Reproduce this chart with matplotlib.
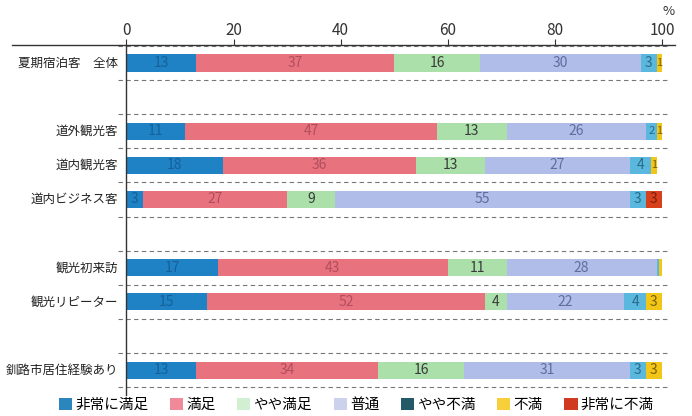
#!/usr/bin/env python3
"""
Stacked horizontal bar chart of visitor satisfaction (percent).
"""

import matplotlib
matplotlib.use("Agg")
import matplotlib.pyplot as plt
from matplotlib.patches import Patch

plt.rcParams['font.family'] = ['Noto Sans CJK JP', 'DejaVu Sans']

categories = ["夏期宿泊客　全体", "道外観光客", "道内観光客", "道内ビジネス客",
              "観光初来訪", "観光リピーター", "釧路市居住経験あり"]
positions = [0, 2, 3, 4, 6, 7, 9]

levels = ["非常に満足", "満足", "やや満足", "普通", "やや不満", "不満", "非常に不満"]
very_satisfied = [13, 11, 18, 3, 17, 15, 13]
satisfied = [37, 47, 36, 27, 43, 52, 34]
somewhat_satisfied = [16, 13, 13, 9, 11, 4, 16]
neutral = [30, 26, 27, 55, 28, 22, 31]
somewhat_unsatisfied = [3, 2, 4, 3, 0.5, 4, 3]
unsatisfied = [1, 1, 1, 0, 0.5, 3, 3]
very_unsatisfied = [0, 0, 0, 3, 0, 0, 0]

series = [very_satisfied, satisfied, somewhat_satisfied, neutral,
          somewhat_unsatisfied, unsatisfied, very_unsatisfied]
bar_colors = ['#1f82c4', '#e8737f', '#abe0ab', '#b0bde9', '#5ab8de', '#f2c619', '#d8401c']
legend_colors = ['#2a86bc', '#f08a98', '#d2efd2', '#cdd2ec', '#245a68', '#f7cf3a', '#d03a20']
text_colors = ['#16609a', '#b24e5c', '#3a3a3a', '#5f6d9e', '#2a6a88', '#7a5e00', '#7a2010']

fig = plt.figure(figsize=(6.92, 4.16), dpi=100)
ax = fig.add_axes([0.1828, 0.0505, 0.7738, 0.8415])

left = [0.0] * len(categories)
for vals, col, tcol in zip(series, bar_colors, text_colors):
    ax.barh(positions, vals, left=left, height=0.5, color=col, linewidth=0)
    for p, l, v in zip(positions, left, vals):
        if v >= 1:
            fs = 10 if v >= 3 else 8
            ax.text(l + v / 2, p, f"{v:g}", ha='center', va='center',
                    fontsize=fs, color=tcol)
    left = [a + b for a, b in zip(left, vals)]

# dashed separators around each bar
seps = sorted({p + d for p in positions for d in (-0.5, 0.5)})
for s in seps:
    ax.plot([-1.5, 101.5], [s, s], ls=(0, (4, 3)), lw=0.8, color='#777777',
            clip_on=False)

# category labels
for p, c in zip(positions, categories):
    ax.text(-1.5, p, c, ha='right', va='center', fontsize=9, color='#222222')

ax.set_xlim(0, 100)
ax.set_ylim(9.73, -0.53)
ax.set_yticks([])
ax.set_xticks(range(0, 101, 20))
ax.xaxis.tick_top()
ax.tick_params(axis='x', direction='out', length=4, width=0.8, labelsize=11,
               colors='#333333', pad=0)
for sp in ['top', 'right', 'bottom']:
    ax.spines[sp].set_visible(False)
ax.spines['left'].set_color('#333333')
ax.spines['left'].set_linewidth(1.0)

# header line running across the label area
ax.plot([-21.4, 102.5], [-0.53, -0.53], color='#333333', lw=1.0, clip_on=False)
ax.text(101.3, -1.5, "%", ha='center', va='center', fontsize=9.5, color='#333333')

handles = [Patch(facecolor=c, edgecolor='none', label=l)
           for c, l in zip(legend_colors, levels)]
fig.legend(handles=handles, loc='lower center', bbox_to_anchor=(0.515, -0.022),
           ncol=7, frameon=False, fontsize=10.5, handlelength=0.9, handleheight=0.9,
           handletextpad=0.2, columnspacing=1.5)

fig.savefig("out.png", dpi=100)
